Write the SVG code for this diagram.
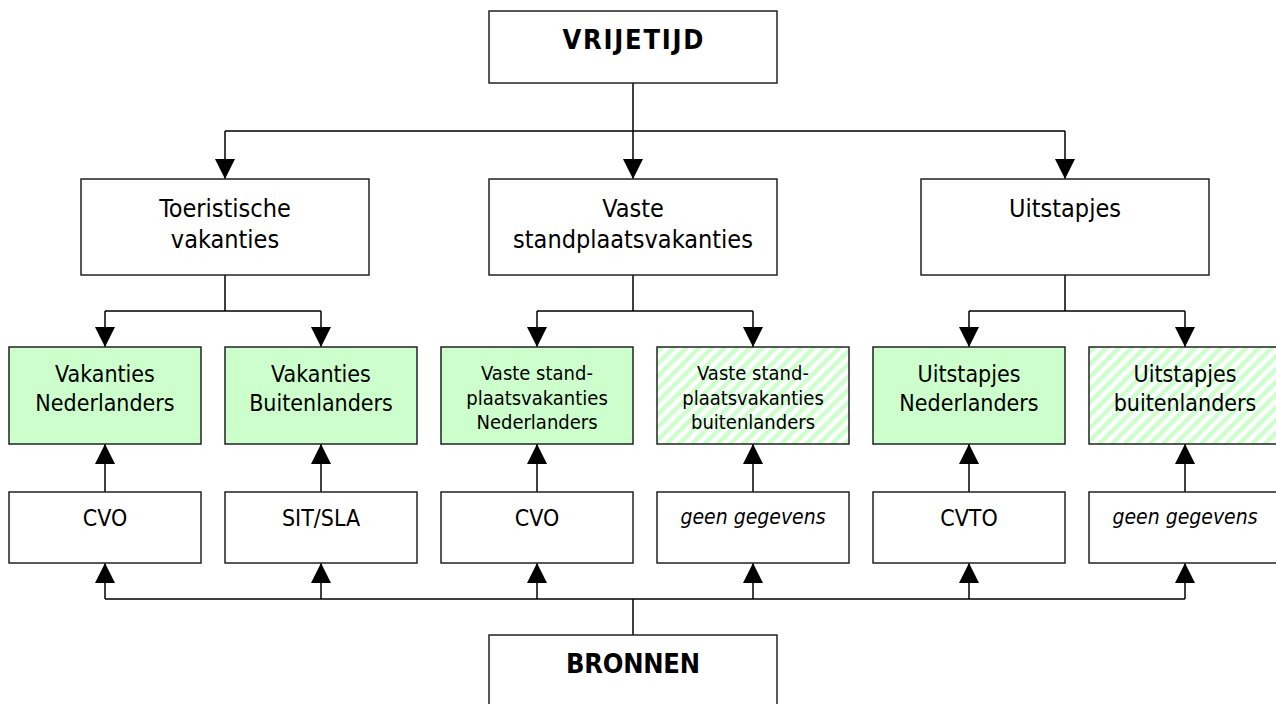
<svg xmlns="http://www.w3.org/2000/svg" width="1276" height="704" viewBox="0 0 1276 704">
<defs>
<style>
.box{fill:#ffffff;stroke:#222222;stroke-width:1.5}
.green{fill:#ccffcc;stroke:#222222;stroke-width:1.5}
.hatch{fill:url(#stripes);stroke:#222222;stroke-width:1.5}
.wire{fill:none;stroke:#000000;stroke-width:1.5}
text{font-family:"DejaVu Sans Condensed","DejaVu Sans",sans-serif;fill:#000000;text-anchor:middle}
.t1{font-size:25px}
.t2{font-size:23px}
.t3{font-size:20px}
.src{font-size:23px}
.it{font-size:21px;font-style:italic}
.bold{font-size:27px;font-weight:bold}
</style>
<pattern id="stripes" patternUnits="userSpaceOnUse" width="9" height="9" patternTransform="rotate(45)">
<rect x="0" y="0" width="9" height="9" fill="#ffffff"/>
<rect x="0" y="0" width="4.5" height="9" fill="#ccffcc"/>
</pattern>
<marker id="arr" markerUnits="userSpaceOnUse" markerWidth="20" markerHeight="20" refX="20" refY="10" orient="auto" viewBox="0 0 20 20">
<path d="M0,0 L20,10 L0,20 Z" fill="#000000"/>
</marker>
</defs>

<g id="connectors">
<path class="wire" d="M633,83 V131 M225,131 H1065"/>
<path class="wire" d="M225,131 V179" marker-end="url(#arr)"/>
<path class="wire" d="M633,131 V179" marker-end="url(#arr)"/>
<path class="wire" d="M1065,131 V179" marker-end="url(#arr)"/>
<path class="wire" d="M225,275 V311 M105,311 H321 M633,275 V311 M537,311 H753 M1065,275 V311 M969,311 H1185"/>
<path class="wire" d="M105,311 V347" marker-end="url(#arr)"/>
<path class="wire" d="M321,311 V347" marker-end="url(#arr)"/>
<path class="wire" d="M537,311 V347" marker-end="url(#arr)"/>
<path class="wire" d="M753,311 V347" marker-end="url(#arr)"/>
<path class="wire" d="M969,311 V347" marker-end="url(#arr)"/>
<path class="wire" d="M1185,311 V347" marker-end="url(#arr)"/>
<path class="wire" d="M105,492 V444" marker-end="url(#arr)"/>
<path class="wire" d="M321,492 V444" marker-end="url(#arr)"/>
<path class="wire" d="M537,492 V444" marker-end="url(#arr)"/>
<path class="wire" d="M753,492 V444" marker-end="url(#arr)"/>
<path class="wire" d="M969,492 V444" marker-end="url(#arr)"/>
<path class="wire" d="M1185,492 V444" marker-end="url(#arr)"/>
<path class="wire" d="M633,635 V599 M105,599 H1185"/>
<path class="wire" d="M105,599 V563" marker-end="url(#arr)"/>
<path class="wire" d="M321,599 V563" marker-end="url(#arr)"/>
<path class="wire" d="M537,599 V563" marker-end="url(#arr)"/>
<path class="wire" d="M753,599 V563" marker-end="url(#arr)"/>
<path class="wire" d="M969,599 V563" marker-end="url(#arr)"/>
<path class="wire" d="M1185,599 V563" marker-end="url(#arr)"/>
</g>

<g id="vrijetijd">
<rect class="box" x="489" y="11" width="288" height="72"/>
<text class="bold" x="633" y="49" textLength="141" lengthAdjust="spacing">VRIJETIJD</text>
</g>

<g id="toeristische">
<rect class="box" x="81" y="179" width="288" height="96"/>
<text class="t1" x="225" y="217">Toeristische</text>
<text class="t1" x="225" y="248">vakanties</text>
</g>
<g id="vaste">
<rect class="box" x="489" y="179" width="288" height="96"/>
<text class="t1" x="633" y="217">Vaste</text>
<text class="t1" x="633" y="248">standplaatsvakanties</text>
</g>
<g id="uitstapjes">
<rect class="box" x="921" y="179" width="288" height="96"/>
<text class="t1" x="1065" y="217">Uitstapjes</text>
</g>

<g id="vak-nl">
<rect class="green" x="9" y="347" width="192" height="97"/>
<text class="t2" x="105" y="382">Vakanties</text>
<text class="t2" x="105" y="411">Nederlanders</text>
</g>
<g id="vak-bl">
<rect class="green" x="225" y="347" width="192" height="97"/>
<text class="t2" x="321" y="382">Vakanties</text>
<text class="t2" x="321" y="411">Buitenlanders</text>
</g>
<g id="vaste-nl">
<rect class="green" x="441" y="347" width="192" height="97"/>
<text class="t3" x="537" y="380">Vaste stand-</text>
<text class="t3" x="537" y="404.5">plaatsvakanties</text>
<text class="t3" x="537" y="429">Nederlanders</text>
</g>
<g id="vaste-bl">
<rect class="hatch" x="657" y="347" width="192" height="97"/>
<text class="t3" x="753" y="380">Vaste stand-</text>
<text class="t3" x="753" y="404.5">plaatsvakanties</text>
<text class="t3" x="753" y="429">buitenlanders</text>
</g>
<g id="uit-nl">
<rect class="green" x="873" y="347" width="192" height="97"/>
<text class="t2" x="969" y="382">Uitstapjes</text>
<text class="t2" x="969" y="411">Nederlanders</text>
</g>
<g id="uit-bl">
<rect class="hatch" x="1089" y="347" width="192" height="97"/>
<text class="t2" x="1185" y="382">Uitstapjes</text>
<text class="t2" x="1185" y="411">buitenlanders</text>
</g>

<g id="src-cvo1">
<rect class="box" x="9" y="492" width="192" height="71"/>
<text class="src" x="105" y="526">CVO</text>
</g>
<g id="src-sit">
<rect class="box" x="225" y="492" width="192" height="71"/>
<text class="src" x="321" y="526">SIT/SLA</text>
</g>
<g id="src-cvo2">
<rect class="box" x="441" y="492" width="192" height="71"/>
<text class="src" x="537" y="526">CVO</text>
</g>
<g id="src-geen1">
<rect class="box" x="657" y="492" width="192" height="71"/>
<text class="it" x="753" y="524">geen gegevens</text>
</g>
<g id="src-cvto">
<rect class="box" x="873" y="492" width="192" height="71"/>
<text class="src" x="969" y="526">CVTO</text>
</g>
<g id="src-geen2">
<rect class="box" x="1089" y="492" width="192" height="71"/>
<text class="it" x="1185" y="524">geen gegevens</text>
</g>

<g id="bronnen">
<rect class="box" x="489" y="635" width="288" height="80"/>
<text class="bold" x="633" y="673" textLength="134" lengthAdjust="spacing">BRONNEN</text>
</g>
</svg>
